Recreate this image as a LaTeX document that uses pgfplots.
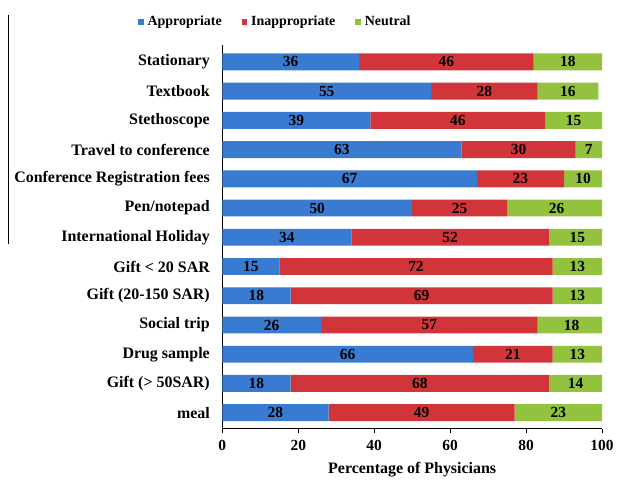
\documentclass[border=0pt]{standalone}
\usepackage{pgfplots}
\usepackage{pgfplotstable}
\pgfplotsset{compat=1.18}
\usepackage{fontspec}
\setmainfont{Liberation Serif}
\definecolor{appr}{HTML}{3A7BD2}
\definecolor{inappr}{HTML}{D23539}
\definecolor{neut}{HTML}{93C23F}

% share (%) of physicians rating each item; idx 0 is the top row
\pgfplotstableread{
idx a  b  c
0   36 46 18
1   55 28 16
2   39 46 15
3   63 30 7
4   67 23 10
5   50 25 26
6   34 52 15
7   15 72 13
8   18 69 13
9   26 57 18
10  66 21 13
11  18 68 14
12  28 49 23
}\ratings

\pgfplotsset{
  common geom/.style={
    at={(0,0)}, anchor=south west,
    scale only axis,
    width=381pt, height=385pt,
    xmin=0, xmax=100,
    ymin=-0.58, ymax=12.545,
    y dir=reverse,
  },
  seglabel/.style={
    draw=none, mark=none,
    nodes near coords,
    /pgf/number format/assume math mode=true,
    every node near coord/.append style={
      font=\fontsize{15.5}{17}\selectfont\bfseries, black, anchor=center},
  },
}
\begin{document}
\begin{tikzpicture}[x=1pt,y=1pt]
\begin{axis}[
  common geom,
  xbar stacked,
  bar width=17pt,
  axis x line*=bottom,
  axis y line*=left,
  xtick={0,20,40,60,80,100},
  ytick={0,1,2,3,4,5,6,7,8,9,10,11,12},
  yticklabels={Stationary,Textbook,Stethoscope,Travel to conference,Conference Registration fees,Pen/notepad,International Holiday,Gift < 20 SAR,Gift (20-150 SAR),Social trip,Drug sample,Gift (> 50SAR),meal},
  y tick style={draw=none},
  x tick style={black, thin},
  tick align=outside,
  major tick length=4pt,
  /pgf/number format/assume math mode=true,
  xticklabel style={font=\fontsize{15.5}{17}\selectfont\bfseries, yshift=-4pt},
  yticklabel style={font=\fontsize{16}{18}\selectfont\bfseries, xshift=-5pt},
  xlabel={Percentage of Physicians},
  xlabel style={font=\fontsize{16}{18}\selectfont\bfseries, yshift=-5pt},
  axis line style={black, thin},
  legend style={at={(axis description cs:-0.23,1.06)}, anchor=west,
    draw=none, fill=none, font=\fontsize{14}{16}\selectfont\bfseries,
    legend columns=3,
    /tikz/every odd column/.append style={column sep=2pt},
    /tikz/every even column/.append style={column sep=18pt}},
  legend image code/.code={\fill[#1,draw=none] (0pt,-3pt) rectangle (5.5pt,3pt);},
  clip=true,
]
\addplot[draw=none, fill=appr]   table[x=a, y=idx] {\ratings};
\addplot[draw=none, fill=inappr] table[x=b, y=idx] {\ratings};
\addplot[draw=none, fill=neut]   table[x=c, y=idx] {\ratings};
\legend{Appropriate,Inappropriate,Neutral}
\end{axis}

% value labels, centred on each segment
\begin{axis}[common geom, hide axis, clip=false]
\addplot[seglabel] table[x expr=\thisrow{a}/2, y=idx, meta=a, point meta=explicit] {\ratings};
\addplot[seglabel] table[x expr=\thisrow{a}+\thisrow{b}/2, y=idx, meta=b, point meta=explicit] {\ratings};
\addplot[seglabel] table[x expr=\thisrow{a}+\thisrow{b}+\thisrow{c}/2, y=idx, meta=c, point meta=explicit] {\ratings};
\end{axis}

% stray rule at the left margin
\draw[black, line width=0.8pt] (-215pt,415pt) -- (-215pt,185pt);
\path[use as bounding box] (-223pt,-47pt) rectangle (394pt,430pt);
\end{tikzpicture}
\end{document}
